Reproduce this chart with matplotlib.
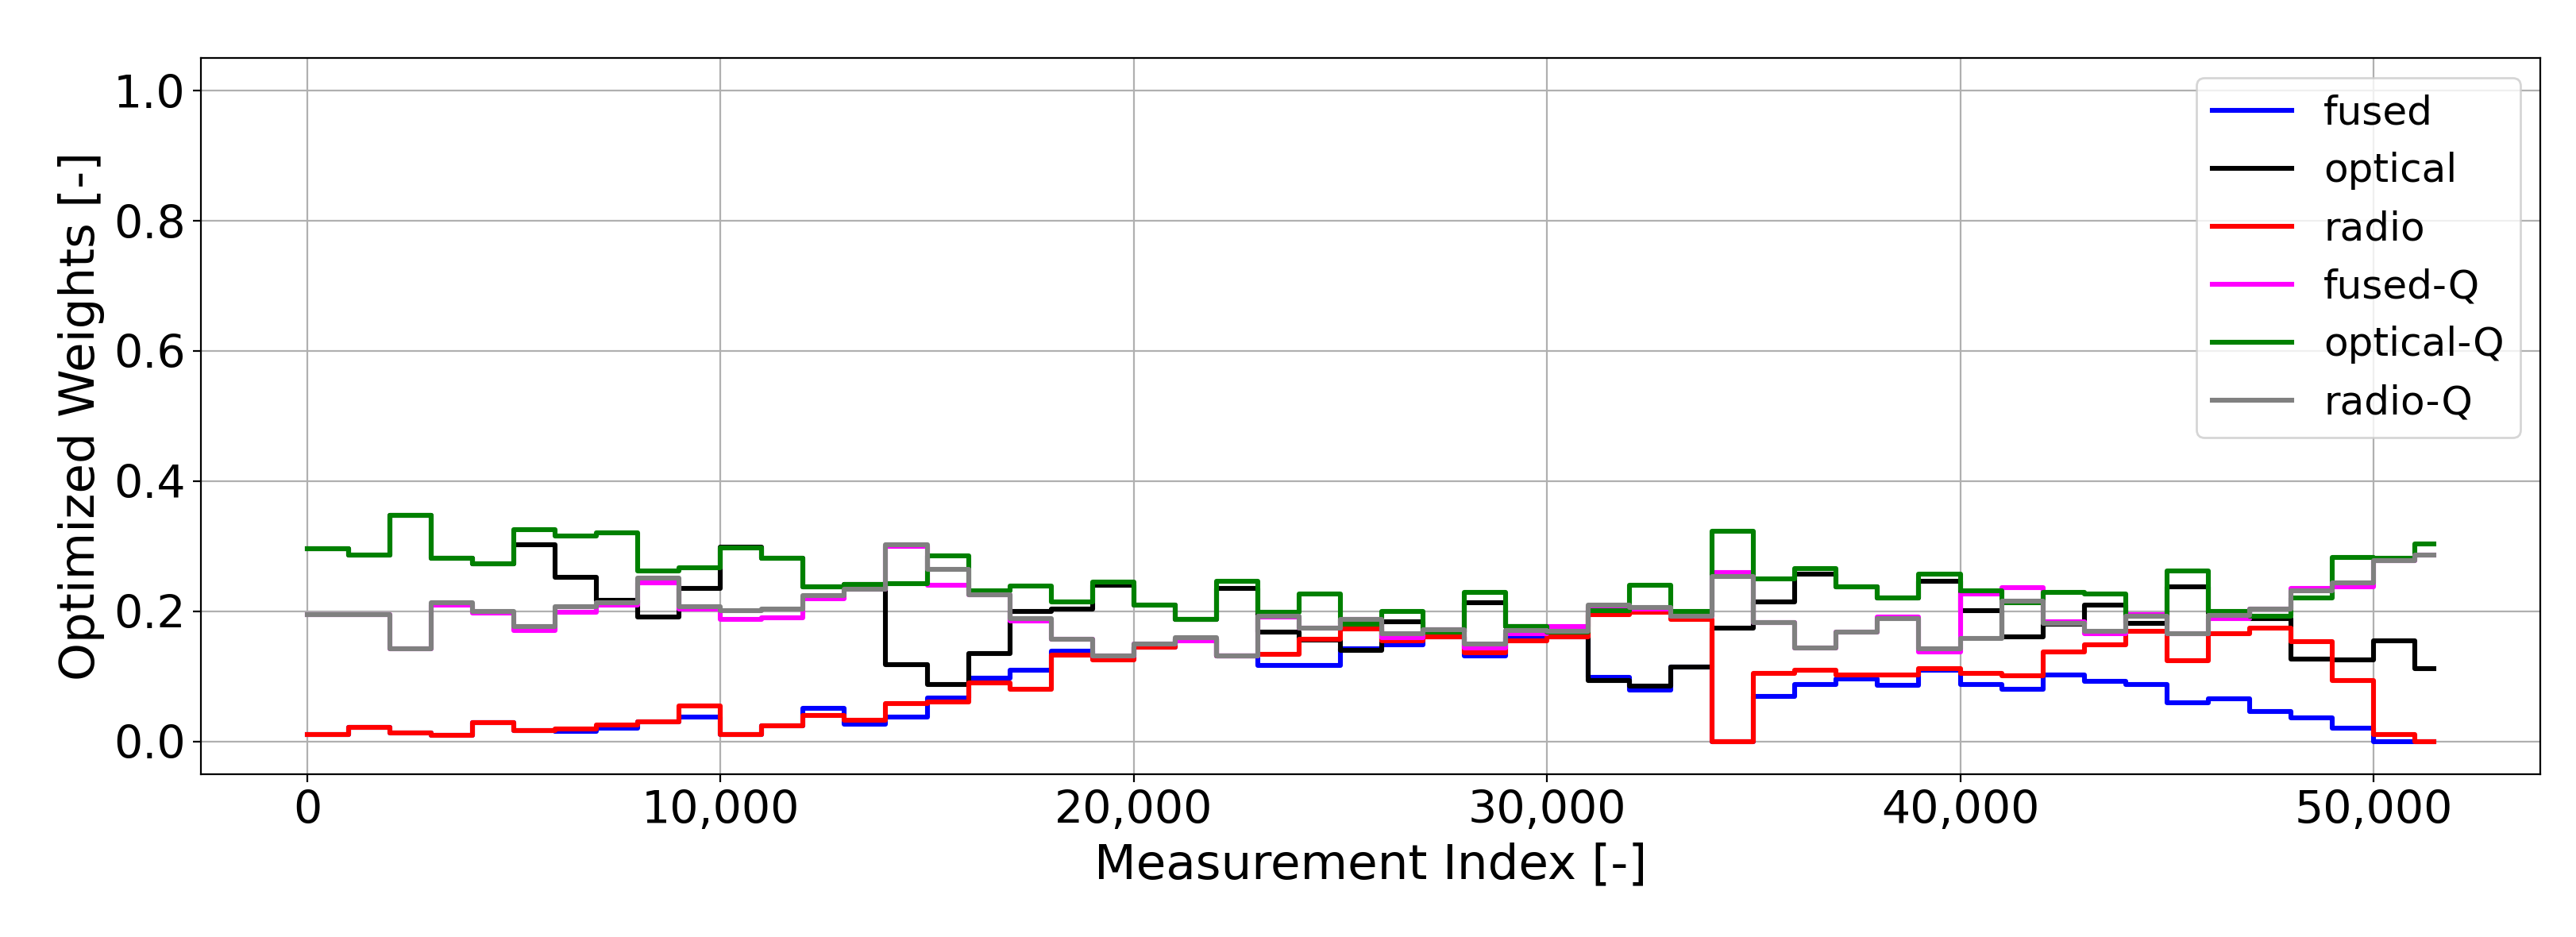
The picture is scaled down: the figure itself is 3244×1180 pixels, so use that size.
import numpy as np
import matplotlib
matplotlib.use("Agg")
import matplotlib.pyplot as plt
from matplotlib.ticker import StrMethodFormatter

# step edges: one block per 1000 measurements, last block is shorter
n_last = 51456
edges = list(range(0, 52000, 1000)) + [n_last]

fused = [0.011, 0.021, 0.013, 0.009, 0.029, 0.017, 0.015, 0.020, 0.030, 0.038,
         0.011, 0.024, 0.051, 0.026, 0.038, 0.067, 0.097, 0.109, 0.139, 0.127,
         0.145, 0.157, 0.132, 0.117, 0.117, 0.143, 0.148, 0.161, 0.132, 0.160,
         0.161, 0.099, 0.079, 0.114, 0.000, 0.069, 0.088, 0.096, 0.086, 0.109,
         0.087, 0.080, 0.102, 0.092, 0.087, 0.060, 0.065, 0.046, 0.036, 0.020,
         0.000, 0.000]
optical = [0.296, 0.286, 0.347, 0.282, 0.273, 0.302, 0.252, 0.217, 0.191, 0.235,
           0.299, 0.282, 0.237, 0.241, 0.118, 0.088, 0.135, 0.200, 0.203, 0.240,
           0.209, 0.188, 0.235, 0.168, 0.156, 0.140, 0.184, 0.168, 0.213, 0.177,
           0.168, 0.093, 0.085, 0.114, 0.174, 0.214, 0.257, 0.237, 0.220, 0.246,
           0.201, 0.161, 0.180, 0.209, 0.182, 0.238, 0.197, 0.189, 0.127, 0.125,
           0.155, 0.112]
radio = [0.011, 0.021, 0.013, 0.009, 0.029, 0.017, 0.019, 0.025, 0.030, 0.055,
         0.011, 0.024, 0.040, 0.033, 0.058, 0.061, 0.090, 0.080, 0.133, 0.125,
         0.145, 0.157, 0.132, 0.134, 0.157, 0.173, 0.154, 0.161, 0.136, 0.154,
         0.161, 0.195, 0.198, 0.187, 0.000, 0.104, 0.109, 0.102, 0.102, 0.112,
         0.105, 0.101, 0.137, 0.148, 0.169, 0.124, 0.166, 0.174, 0.153, 0.093,
         0.011, 0.000]
fused_q = [0.195, 0.195, 0.142, 0.209, 0.197, 0.171, 0.199, 0.210, 0.244, 0.203,
           0.188, 0.190, 0.219, 0.234, 0.300, 0.240, 0.225, 0.185, 0.157, 0.132,
           0.150, 0.155, 0.132, 0.191, 0.174, 0.187, 0.159, 0.172, 0.144, 0.166,
           0.176, 0.207, 0.203, 0.193, 0.260, 0.183, 0.144, 0.168, 0.191, 0.137,
           0.226, 0.236, 0.184, 0.166, 0.195, 0.165, 0.189, 0.203, 0.235, 0.237,
           0.278, 0.286]
optical_q = [0.296, 0.286, 0.347, 0.282, 0.273, 0.325, 0.316, 0.320, 0.262, 0.267,
             0.297, 0.282, 0.237, 0.241, 0.243, 0.285, 0.231, 0.239, 0.214, 0.245,
             0.209, 0.188, 0.246, 0.198, 0.227, 0.180, 0.200, 0.168, 0.229, 0.177,
             0.168, 0.201, 0.240, 0.200, 0.323, 0.250, 0.266, 0.237, 0.220, 0.257,
             0.232, 0.213, 0.229, 0.227, 0.193, 0.262, 0.200, 0.192, 0.221, 0.283,
             0.282, 0.303]
radio_q = [0.195, 0.195, 0.142, 0.213, 0.200, 0.176, 0.207, 0.213, 0.251, 0.207,
           0.201, 0.203, 0.224, 0.234, 0.302, 0.264, 0.225, 0.189, 0.157, 0.132,
           0.150, 0.159, 0.132, 0.193, 0.174, 0.187, 0.165, 0.172, 0.150, 0.171,
           0.169, 0.210, 0.206, 0.193, 0.254, 0.183, 0.144, 0.168, 0.189, 0.142,
           0.158, 0.215, 0.181, 0.169, 0.192, 0.165, 0.194, 0.203, 0.231, 0.244,
           0.278, 0.286]

series = [("fused", fused, "blue"),
          ("optical", optical, "black"),
          ("radio", radio, "red"),
          ("fused-Q", fused_q, "magenta"),
          ("optical-Q", optical_q, "green"),
          ("radio-Q", radio_q, "grey")]

fig, ax = plt.subplots(figsize=(16.22, 5.9), dpi=200)
fig.subplots_adjust(left=0.078, right=0.986, top=0.938, bottom=0.174)

for name, vals, col in series:
    y = np.append(vals, vals[-1])  # repeat last value so the final block is drawn
    ax.step(edges, y, where="post", color=col, lw=2.2, label=name)

ax.set_ylim(-0.05, 1.05)
ax.grid(True)
ax.xaxis.set_major_formatter(StrMethodFormatter("{x:,.0f}"))
ax.tick_params(labelsize=20.5)
ax.set_xlabel("Measurement Index [-]", fontsize=22)
ax.set_ylabel("Optimized Weights [-]", fontsize=22)
ax.legend(loc="upper right", fontsize=18)

fig.savefig("out.png", dpi=200)
